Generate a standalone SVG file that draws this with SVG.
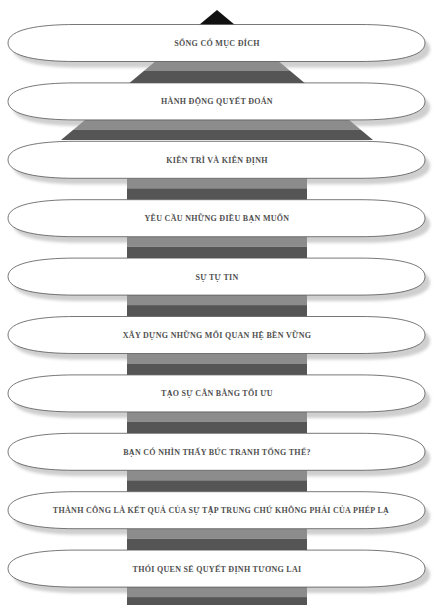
<svg xmlns="http://www.w3.org/2000/svg" width="435" height="605" viewBox="0 0 435 605">
<style>
.pill{fill:#fff;stroke:#555;stroke-width:0.8}
.sh{fill:#cfcfcf;filter:url(#blur)}
.lt{fill:#8c8c8c}
.dk{fill:#555}
.t{font-family:"Liberation Serif","DejaVu Serif",serif;font-weight:bold;font-size:8px;letter-spacing:0.3px;fill:#505050;text-anchor:middle}
</style>
<defs>
<filter id="blur" x="-5%" y="-30%" width="110%" height="160%"><feGaussianBlur stdDeviation="1.5"/></filter>
<path id="p" d="M8,0 C8,-14 40,-18.5 75,-18.5 L360,-18.5 C395,-18.5 425,-14 425,0 C425,14 395,18.5 360,18.5 L75,18.5 C40,18.5 8,14 8,0Z"/>
<clipPath id="tri"><polygon points="217,10 61,140 373,140"/></clipPath>
</defs>
<rect width="435" height="605" fill="#fff"/>
<g id="shadows">
<use href="#p" class="sh" x="5" y="49"/>
<use href="#p" class="sh" x="5" y="107.4"/>
<use href="#p" class="sh" x="5" y="165.8"/>
<use href="#p" class="sh" x="5" y="224.2"/>
<use href="#p" class="sh" x="5" y="282.6"/>
<use href="#p" class="sh" x="5" y="341"/>
<use href="#p" class="sh" x="5" y="399.4"/>
<use href="#p" class="sh" x="5" y="457.8"/>
<use href="#p" class="sh" x="5" y="516.2"/>
<use href="#p" class="sh" x="5" y="574.6"/>
</g>
<g id="spine">
<g clip-path="url(#tri)">
<rect x="0" y="0" width="435" height="30" fill="#111"/>
<rect class="lt" x="0" y="61" width="435" height="9.5"/>
<rect class="dk" x="0" y="70.5" width="435" height="15"/>
<rect class="lt" x="0" y="119.9" width="435" height="10"/>
<rect class="dk" x="0" y="129.9" width="435" height="11"/>
</g>
<rect class="lt" x="127" y="178.3" width="180" height="10"/><rect class="dk" x="127" y="188.3" width="180" height="11.4"/>
<rect class="lt" x="127" y="236.7" width="180" height="10"/><rect class="dk" x="127" y="246.7" width="180" height="11.4"/>
<rect class="lt" x="127" y="295.1" width="180" height="10"/><rect class="dk" x="127" y="305.1" width="180" height="11.4"/>
<rect class="lt" x="127" y="353.5" width="180" height="10"/><rect class="dk" x="127" y="363.5" width="180" height="11.4"/>
<rect class="lt" x="127" y="411.9" width="180" height="10"/><rect class="dk" x="127" y="421.9" width="180" height="11.4"/>
<rect class="lt" x="127" y="470.3" width="180" height="10"/><rect class="dk" x="127" y="480.3" width="180" height="11.4"/>
<rect class="lt" x="127" y="528.7" width="180" height="10"/><rect class="dk" x="127" y="538.7" width="180" height="11.4"/>
<rect class="lt" x="127" y="587.1" width="180" height="10"/><rect class="dk" x="127" y="597.1" width="180" height="8"/>
</g>
<g id="n1" transform="translate(0,43)"><use href="#p" class="pill"/><text class="t" x="217" y="3">SỐNG CÓ MỤC ĐÍCH</text></g>
<g id="n2" transform="translate(0,101.4)"><use href="#p" class="pill"/><text class="t" x="217" y="3">HÀNH ĐỘNG QUYẾT ĐOÁN</text></g>
<g id="n3" transform="translate(0,159.8)"><use href="#p" class="pill"/><text class="t" x="217" y="3">KIÊN TRÌ VÀ KIÊN ĐỊNH</text></g>
<g id="n4" transform="translate(0,218.2)"><use href="#p" class="pill"/><text class="t" x="217" y="3">YÊU CẦU NHỮNG ĐIỀU BẠN MUỐN</text></g>
<g id="n5" transform="translate(0,276.6)"><use href="#p" class="pill"/><text class="t" x="217" y="3">SỰ TỰ TIN</text></g>
<g id="n6" transform="translate(0,335)"><use href="#p" class="pill"/><text class="t" x="217" y="3">XÂY DỰNG NHỮNG MỐI QUAN HỆ BỀN VỮNG</text></g>
<g id="n7" transform="translate(0,393.4)"><use href="#p" class="pill"/><text class="t" x="217" y="3">TẠO SỰ CÂN BẰNG TỐI ƯU</text></g>
<g id="n8" transform="translate(0,451.8)"><use href="#p" class="pill"/><text class="t" x="217" y="3">BẠN CÓ NHÌN THẤY BỨC TRANH TỔNG THỂ?</text></g>
<g id="n9" transform="translate(0,510.2)"><use href="#p" class="pill"/><text class="t" x="221" y="3">THÀNH CÔNG LÀ KẾT QUẢ CỦA SỰ TẬP TRUNG CHỨ KHÔNG PHẢI CỦA PHÉP LẠ</text></g>
<g id="n10" transform="translate(0,568.6)"><use href="#p" class="pill"/><text class="t" x="217" y="3">THÓI QUEN SẼ QUYẾT ĐỊNH TƯƠNG LAI</text></g>
</svg>
